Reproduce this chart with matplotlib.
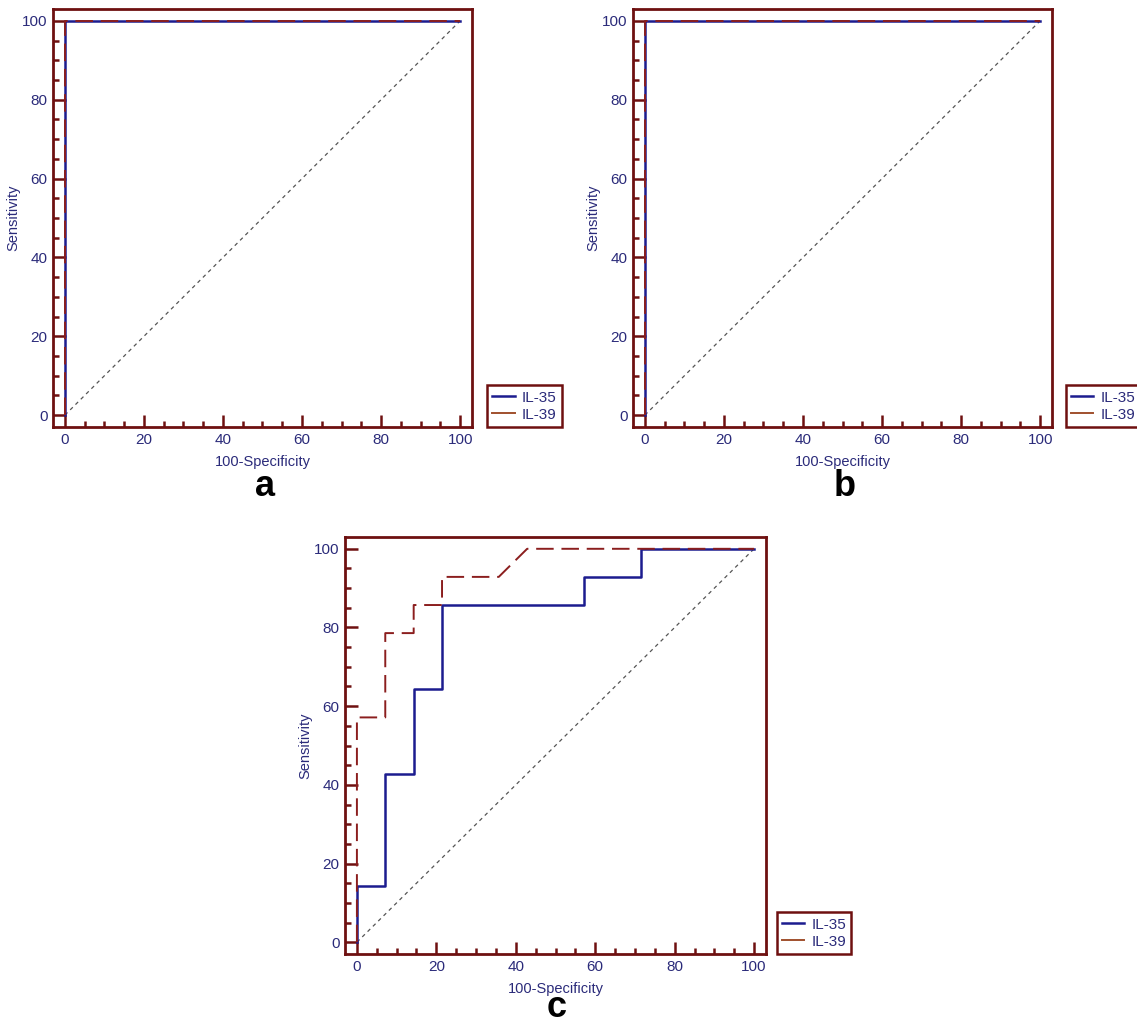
import numpy as np
import matplotlib
matplotlib.use("Agg")
import matplotlib.pyplot as plt
from matplotlib.ticker import MultipleLocator

plt.rcParams['font.family'] = ['Liberation Sans', 'DejaVu Sans']

# ROC curve points (100-Specificity, Sensitivity)
a_il35_x = [0, 0, 100]
a_il35_y = [0, 100, 100]
a_il39_x = [0, 0, 100]
a_il39_y = [0, 100, 100]

b_il35_x = [0, 0, 100]
b_il35_y = [0, 100, 100]
b_il39_x = [0, 0, 100]
b_il39_y = [0, 100, 100]

c_il35_x = [0, 0, 7.14, 7.14, 14.29, 14.29, 21.43, 21.43, 57.14, 57.14, 71.43, 71.43, 100]
c_il35_y = [0, 14.29, 14.29, 42.86, 42.86, 64.29, 64.29, 85.71, 85.71, 92.86, 92.86, 100, 100]
c_il39_x = [0, 0, 7.14, 7.14, 14.29, 14.29, 21.43, 21.43, 35.71, 42.86, 100]
c_il39_y = [0, 57.14, 57.14, 78.57, 78.57, 85.71, 85.71, 92.86, 92.86, 100, 100]

series_names = ["IL-35", "IL-39"]
panel_labels = ["a", "b", "c"]

FRAME = "#6e1010"
BLUE = "#1c1c8f"
RED = "#8b1e1e"
LEG_RED = "#a0502d"
TXT = "#2b2b7a"

W, H = 1137, 1024
fig = plt.figure(figsize=(W / 100, H / 100), dpi=100)


def px_axes(left, top, right, bottom):
    return fig.add_axes([left / W, 1 - bottom / H, (right - left) / W, (bottom - top) / H])


def roc_panel(ax, x35, y35, x39, y39, leg_x):
    ax.plot([0, 100], [0, 100], color="#555555", lw=0.9, dashes=(3, 3))
    ax.plot(x39, y39, color=RED, lw=1.4, dashes=(9, 4), zorder=3)
    ax.plot(x35, y35, color=BLUE, lw=1.8, zorder=2)
    ax.set_xlim(-3, 103)
    ax.set_ylim(-3, 103)
    for s in ax.spines.values():
        s.set_color(FRAME)
        s.set_linewidth(2)
    ax.xaxis.set_major_locator(MultipleLocator(20))
    ax.xaxis.set_minor_locator(MultipleLocator(5))
    ax.yaxis.set_major_locator(MultipleLocator(20))
    ax.yaxis.set_minor_locator(MultipleLocator(5))
    ax.tick_params(which="both", direction="in", color=FRAME, width=1.8,
                   top=False, right=False, labelcolor=TXT, labelsize=11)
    ax.tick_params(which="major", length=9, pad=4)
    ax.tick_params(which="minor", length=4)
    ax.set_xlabel("100-Specificity", color=TXT, fontsize=10.5, labelpad=6)
    ax.set_ylabel("Sensitivity", color=TXT, fontsize=10.5, labelpad=1)
    h1, = ax.plot([], [], color=BLUE, lw=1.8)
    h2, = ax.plot([], [], color=LEG_RED, lw=1.4)
    leg = ax.legend([h1, h2], series_names, loc="lower left", bbox_to_anchor=(leg_x, 0),
                    fancybox=False, framealpha=1, edgecolor=FRAME, fontsize=11,
                    handlelength=1.45, handletextpad=0.45, borderpad=0.35,
                    labelspacing=0.2, borderaxespad=0)
    leg.get_frame().set_linewidth(1.8)
    for t in leg.get_texts():
        t.set_color(TXT)


ax_a = px_axes(53, 9, 472, 427)
roc_panel(ax_a, a_il35_x, a_il35_y, a_il39_x, a_il39_y, 1.036)
ax_b = px_axes(633, 9, 1052, 427)
roc_panel(ax_b, b_il35_x, b_il35_y, b_il39_x, b_il39_y, 1.033)
ax_c = px_axes(345, 537, 766, 954)
roc_panel(ax_c, c_il35_x, c_il35_y, c_il39_x, c_il39_y, 1.026)

fig.text(265 / W, 1 - 486 / H, panel_labels[0], fontsize=26, fontweight="bold", ha="center", va="center")
fig.text(845 / W, 1 - 486 / H, panel_labels[1], fontsize=26, fontweight="bold", ha="center", va="center")
fig.text(557 / W, 1 - 1017 / H, panel_labels[2], fontsize=26, fontweight="bold", ha="center", va="baseline")

fig.savefig("out.png", dpi=100)
